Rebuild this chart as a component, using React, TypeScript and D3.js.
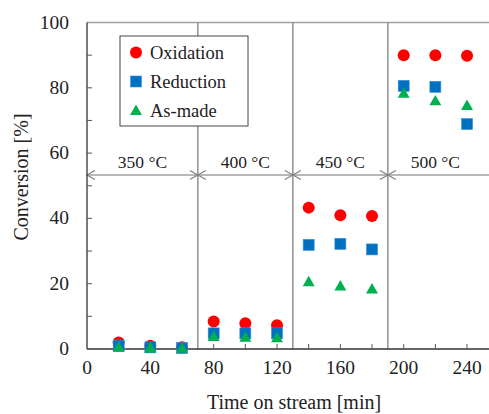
import React from "react";
import * as d3 from "d3";

const times = [20, 40, 60, 80, 100, 120, 140, 160, 180, 200, 220, 240];
const oxidation = [2, 1, 0.5, 8.4, 7.9, 7.3, 43.3, 41.0, 40.7, 90.0, 90.0, 89.8];
const reduction = [1, 0.5, 0.3, 4.8, 4.8, 4.8, 31.9, 32.2, 30.5, 80.6, 80.3, 68.9];
const asMade = [0.5, 0.3, 0.2, 3.8, 3.6, 3.4, 20.6, 19.3, 18.4, 78.3, 76.0, 74.6];
const xTickLabels = [0, 40, 80, 120, 160, 200, 240];
const yTickLabels = [0, 20, 40, 60, 80, 100];
const boundaries = [70, 130, 190];
const zoneLabels = ["350 °C", "400 °C", "450 °C", "500 °C"];
const zoneCenters = [35, 100, 160, 220];
const arrowLevel = 53.3;
const seriesNames = ["Oxidation", "Reduction", "As-made"];

const W = 489, H = 414;
const x = d3.scaleLinear().domain([0, 260]).range([87, 498.7]);
const y = d3.scaleLinear().domain([0, 100]).range([349, 22.5]);
const FONT = "'Liberation Serif', 'Times New Roman', serif";
const RED = "#ff0000", BLUE = "#0070c0", GREEN = "#00b050";

function Marker({ kind, cx, cy }: { kind: number; cx: number; cy: number }) {
  if (kind === 0) return <circle cx={cx} cy={cy} r={6} fill={RED} />;
  if (kind === 1) return <rect x={cx - 5.5} y={cy - 5.5} width={11} height={11} fill={BLUE} stroke="#3d8fd0" strokeWidth={0.6} />;
  const tri = d3.symbol().type(d3.symbolTriangle).size(62)() as string;
  return <path d={tri} transform={`translate(${cx},${cy + 1})`} fill={GREEN} />;
}

export default function App() {
  const series = [oxidation, reduction, asMade];
  const xMinor = d3.range(20, 260, 20);
  const yMinor = d3.range(10, 100, 10);
  const ay = y(arrowLevel);
  const ah = 4.5, al = 8;
  const arrowPts = [x(0), ...boundaries.map((b) => x(b))];
  return (
    <div style={{ position: "fixed", left: 0, top: 0 }}>
      <svg width={W} height={H} style={{ display: "block", background: "#fff" }}>
        <line x1={x(0)} x2={W} y1={y(100)} y2={y(100)} stroke="#a0a0a0" strokeWidth={1.5} />
        {boundaries.map((b) => (
          <line key={b} x1={x(b)} x2={x(b)} y1={y(100)} y2={y(0)} stroke="#808080" strokeWidth={1.3} />
        ))}
        <line x1={x(0)} x2={W} y1={ay} y2={ay} stroke="#a0a0a0" strokeWidth={1.3} />
        {arrowPts.map((px, i) => (
          <g key={i} stroke="#808080" strokeWidth={1.2} fill="none">
            <polyline points={`${px + al},${ay - ah} ${px},${ay} ${px + al},${ay + ah}`} />
            {i > 0 && <polyline points={`${px - al},${ay - ah} ${px},${ay} ${px - al},${ay + ah}`} />}
          </g>
        ))}
        {zoneLabels.map((t, i) => (
          <text key={t} x={x(zoneCenters[i])} y={ay - 7} textAnchor="middle" fontFamily={FONT} fontSize={17.5} fill="#222">
            {t}
          </text>
        ))}
        <line x1={x(0)} x2={x(0)} y1={y(100)} y2={y(0)} stroke="#333" strokeWidth={1.3} />
        <line x1={x(0)} x2={W} y1={y(0)} y2={y(0)} stroke="#333" strokeWidth={1.3} />
        {xMinor.map((v) => (
          <line key={v} x1={x(v)} x2={x(v)} y1={y(0)} y2={y(0) - 5} stroke="#555" strokeWidth={1} />
        ))}
        {yMinor.map((v) => (
          <line key={v} x1={x(0)} x2={x(0) + 5} y1={y(v)} y2={y(v)} stroke="#555" strokeWidth={1} />
        ))}
        {xTickLabels.map((v) => (
          <text key={v} x={x(v)} y={y(0) + 25} textAnchor="middle" fontFamily={FONT} fontSize={19.5} fill="#222">
            {v}
          </text>
        ))}
        {yTickLabels.map((v) => (
          <text key={v} x={x(0) - 18} y={y(v) + 6} textAnchor="end" fontFamily={FONT} fontSize={19.5} fill="#222">
            {v}
          </text>
        ))}
        <text x={294} y={409} textAnchor="middle" fontFamily={FONT} fontSize={20} fill="#222">
          Time on stream [min]
        </text>
        <text transform={`translate(28,${177}) rotate(-90)`} textAnchor="middle" fontFamily={FONT} fontSize={20} fill="#222">
          Conversion [%]
        </text>
        {[0, 1, 2].map((s) =>
          series[s].map((v, i) => <Marker key={`${s}-${i}`} kind={s} cx={x(times[i])} cy={y(v)} />)
        )}
        <rect x={120} y={36} width={128} height={90} fill="#fff" stroke="#444" strokeWidth={1} />
        {seriesNames.map((n, i) => (
          <g key={n}>
            <Marker kind={i} cx={136} cy={52.5 + i * 29} />
            <text x={150} y={59 + i * 29} fontFamily={FONT} fontSize={18.5} fill="#222">
              {n}
            </text>
          </g>
        ))}
      </svg>
    </div>
  );
}
